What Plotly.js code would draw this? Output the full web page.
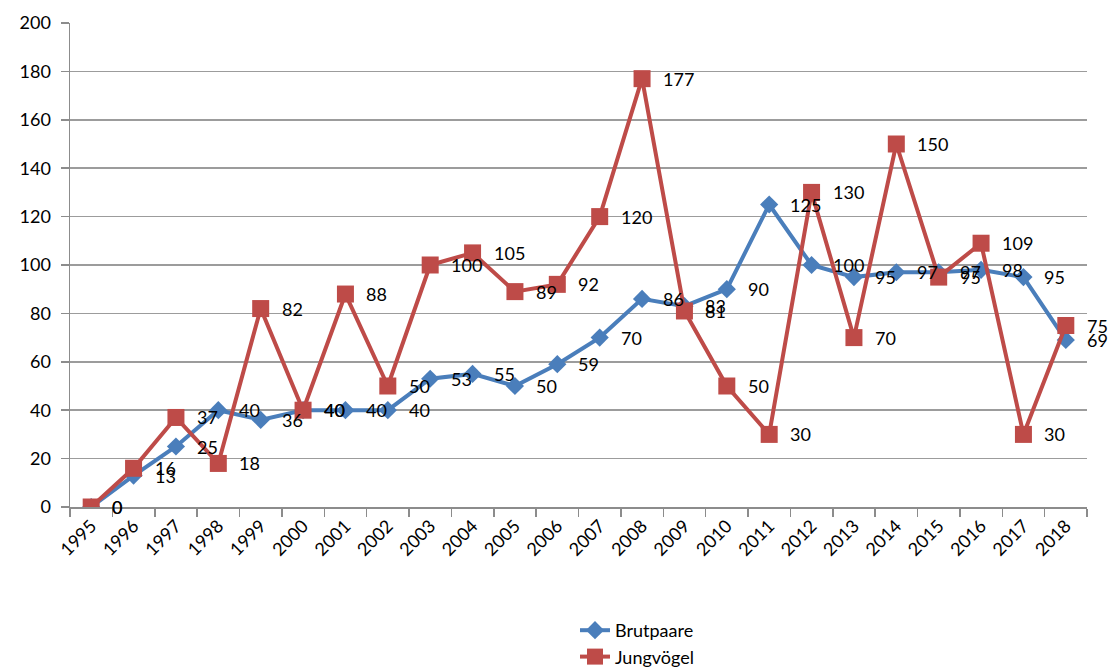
<!DOCTYPE html>
<html>
<head>
<meta charset="utf-8">
<script src="https://cdn.plot.ly/plotly-3.0.1.min.js"></script>
<style>
  html, body { margin: 0; padding: 0; background: #ffffff; }
  #chart { width: 1118px; height: 667px; }
</style>
</head>
<body>
<div id="chart"></div>
<script>
const years = ["1995","1996","1997","1998","1999","2000","2001","2002","2003","2004","2005","2006","2007","2008","2009","2010","2011","2012","2013","2014","2015","2016","2017","2018"];
const brutpaare = [0,13,25,40,36,40,40,40,53,55,50,59,70,86,83,90,125,100,95,97,97,98,95,69];
const jungvoegel = [0,16,37,18,82,40,88,50,100,105,89,92,120,177,81,50,30,130,70,150,95,109,30,75];
const yTicks = [0,20,40,60,80,100,120,140,160,180,200];

const blue = "#4A7EBB";
const red = "#BE4B48";
const FONT = "Lato, 'Open Sans', sans-serif";
const FS = 18;

const traces = [
  {
    x: years, y: brutpaare, name: "Brutpaare", type: "scatter", mode: "lines+markers",
    line: {color: blue, width: 4},
    marker: {symbol: "diamond", size: 14, color: blue},
    hoverinfo: "skip"
  },
  {
    x: years, y: jungvoegel, name: "Jungvögel", type: "scatter", mode: "lines+markers",
    line: {color: red, width: 4},
    marker: {symbol: "square", size: 17, color: red},
    hoverinfo: "skip"
  }
];

const annotations = [];
[brutpaare, jungvoegel].forEach(series => {
  series.forEach((v, i) => {
    annotations.push({
      x: i, y: v, xref: "x", yref: "y", text: String(v),
      showarrow: false, xanchor: "left", yanchor: "middle", xshift: 19,
      font: {family: FONT, size: FS, color: "#000000"}
    });
  });
});

const layout = {
  width: 1118, height: 667,
  margin: {l: 70, r: 31, t: 23, b: 160, autoexpand: false},
  paper_bgcolor: "#ffffff", plot_bgcolor: "#ffffff",
  font: {family: FONT, size: FS, color: "#000000"},
  showlegend: true,
  legend: {
    xref: "container", yref: "container",
    x: 575 / 1118, y: 1 - 612 / 667, xanchor: "left", yanchor: "top",
    orientation: "v", font: {family: FONT, size: FS, color: "#000000"},
    bgcolor: "rgba(0,0,0,0)", tracegroupgap: 4, itemwidth: 30
  },
  xaxis: {
    type: "category", categoryorder: "array", categoryarray: years,
    range: [-0.5, 23.5], tickangle: -45, automargin: false,
    ticks: "outside", ticklen: 8, tickcolor: "#8c8c8c", tickwidth: 1.5,
    tickson: "boundaries",
    showline: true, linecolor: "#8c8c8c", linewidth: 1.5,
    showgrid: false, zeroline: false, fixedrange: true,
    tickfont: {family: FONT, size: FS, color: "#000000"}
  },
  yaxis: {
    range: [0, 200], tickvals: yTicks, ticktext: yTicks.map(String),
    automargin: false,
    ticks: "outside", ticklen: 8, tickcolor: "#8c8c8c", tickwidth: 1.5,
    showline: true, linecolor: "#8c8c8c", linewidth: 1.5,
    showgrid: true, gridcolor: "#9c9c9c", gridwidth: 1.5,
    zeroline: false, fixedrange: true, ticklabelstandoff: 6,
    tickfont: {family: FONT, size: FS, color: "#000000"}
  },
  annotations: annotations
};

Plotly.newPlot("chart", traces, layout, {displayModeBar: false, staticPlot: true});
</script>
</body>
</html>
